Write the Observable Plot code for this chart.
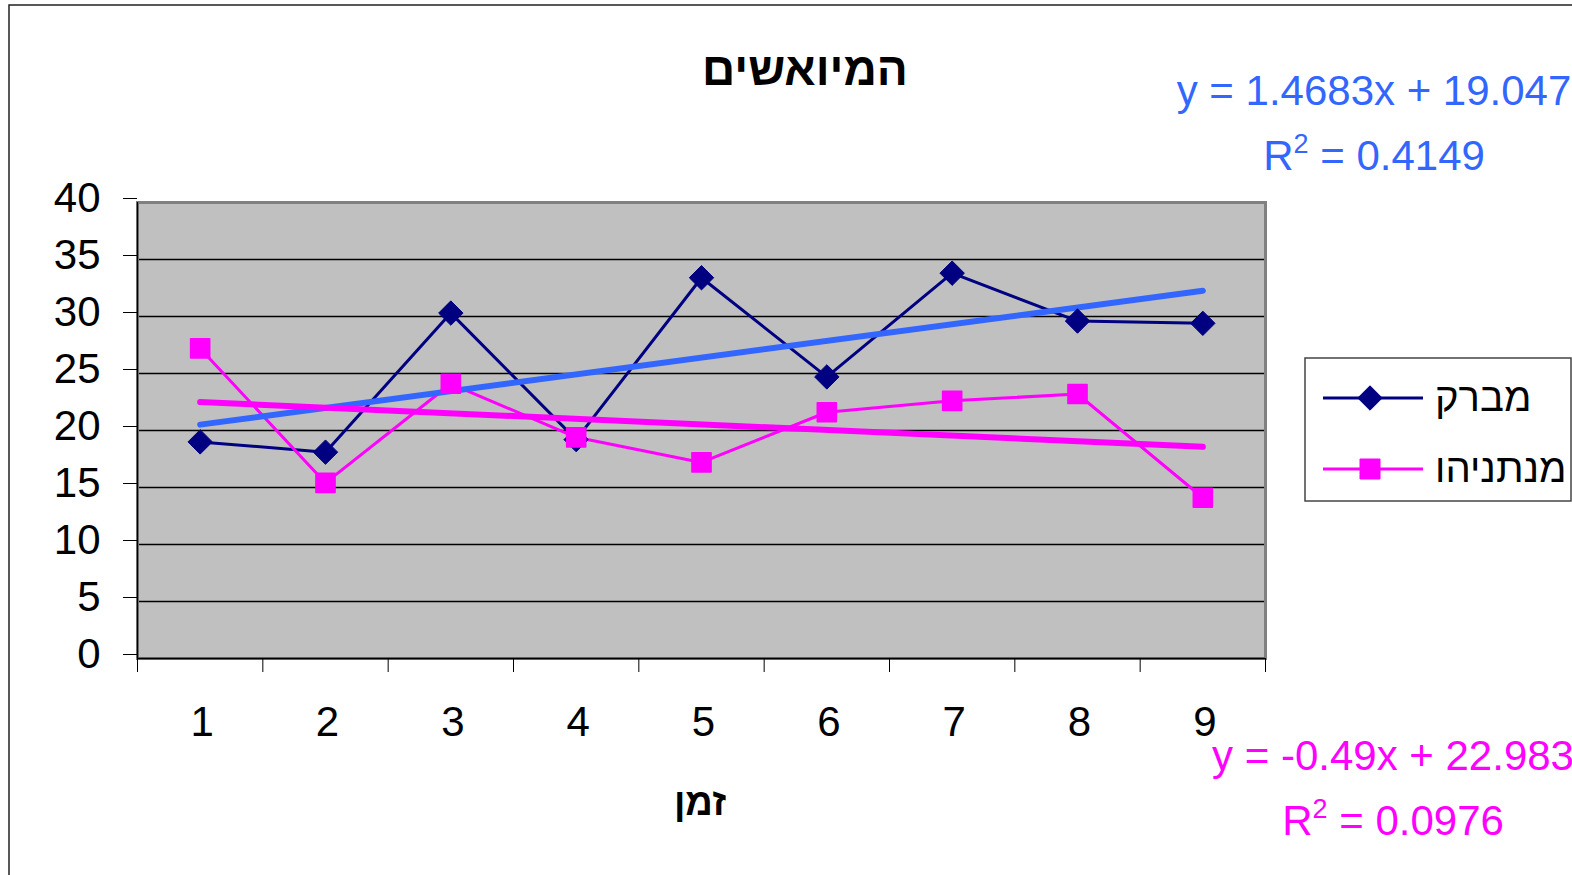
<!DOCTYPE html>
<html>
<head>
<meta charset="utf-8">
<script src="https://cdn.jsdelivr.net/npm/d3@7"></script>
<script src="https://cdn.jsdelivr.net/npm/@observablehq/plot@0.6"></script>
<style>
  html, body { margin: 0; padding: 0; background: #fff; overflow: hidden; }
  #chart { position: relative; width: 1572px; height: 875px; }
</style>
</head>
<body>
<div id="chart"></div>
<script>
// ---- data ----
const categories = [1, 2, 3, 4, 5, 6, 7, 8, 9];
const mubarak = [19.0, 18.1, 30.3, 19.2, 33.4, 24.7, 33.8, 29.6, 29.4];
const netanyahu = [27.2, 15.4, 24.1, 19.4, 17.2, 21.6, 22.6, 23.2, 14.1];
const seriesNames = ["מברק", "מנתניהו"];
const trendSlopes = [1.4683, -0.49];
const trendIntercepts = [19.047, 22.983];
const trendR2 = ["0.4149", "0.0976"];
const trendSlopeText = ["1.4683", "-0.49"];
const trendInterceptText = ["19.047", "22.983"];
const yTicks = [0, 5, 10, 15, 20, 25, 30, 35, 40];
const chartTitle = "המיואשים";
const xTitle = "זמן";

// ---- derived tables ----
const colors = ["#000080", "#ff00ff"];
const trendColors = ["#3366ff", "#ff00ff"];
const table = [];
[mubarak, netanyahu].forEach((vals, s) =>
  vals.forEach((v, i) => table.push({series: seriesNames[s], x: categories[i], y: v})));
const trendTable = [];
trendSlopes.forEach((m, s) => {
  const xs = [categories[0], categories[categories.length - 1]];
  xs.forEach(x => trendTable.push({series: seriesNames[s], x, y: m * x + trendIntercepts[s]}));
});
const boundaries = categories.map(c => c - 0.5).concat([categories[categories.length - 1] + 0.5]);
const gridVals = yTicks.filter(d => d > yTicks[0] && d < yTicks[yTicks.length - 1]);

const font = "'Liberation Sans', Arial, sans-serif";

const plot = Plot.plot({
  width: 1572,
  height: 875,
  marginLeft: 137,
  marginRight: 307,
  marginTop: 202,
  marginBottom: 217,
  x: {type: "linear", domain: [boundaries[0], boundaries[boundaries.length - 1]]},
  y: {domain: [yTicks[0], yTicks[yTicks.length - 1]]},
  style: {fontFamily: font, fontSize: "42px", color: "#000", background: "transparent", overflow: "visible"},
  marks: [
    Plot.frame({fill: "#c0c0c0"}),
    Plot.ruleY(gridVals, {stroke: "#000", strokeWidth: 1.3}),
    Plot.frame({stroke: "#808080", strokeWidth: 3}),
    Plot.ruleX([boundaries[0]], {stroke: "#000", strokeWidth: 1.3}),
    Plot.ruleY([yTicks[0]], {stroke: "#000", strokeWidth: 1.5}),
    Plot.axisY({ticks: yTicks, tickSize: 14, tickPadding: 23, label: null, dy: -4, stroke: "#000"}),
    Plot.axisX({ticks: categories, tickSize: 0, tickPadding: 48, label: null, dx: 2, tickFormat: d => String(d)}),
    Plot.axisX({ticks: boundaries, tickSize: 14, tickFormat: () => "", label: null, stroke: "#000"}),
    Plot.line(table, {x: "x", y: "y", z: "series", stroke: d => d.series === seriesNames[0] ? colors[0] : colors[1], strokeWidth: 3}),
    Plot.line(trendTable, {x: "x", y: "y", z: "series", stroke: d => d.series === seriesNames[0] ? trendColors[0] : trendColors[1], strokeWidth: 6, strokeLinecap: "round"}),
    Plot.dot(table.filter(d => d.series === seriesNames[0]), {x: "x", y: "y", symbol: "diamond2", r: 11, fill: colors[0], stroke: colors[0], strokeWidth: 1, strokeLinejoin: "round"}),
    Plot.dot(table.filter(d => d.series === seriesNames[1]), {x: "x", y: "y", symbol: "square", r: 10.8, fill: colors[1], stroke: colors[1], strokeWidth: 1.5, strokeLinejoin: "round"})
  ]
});
plot.setAttribute("color", "#000");
document.getElementById("chart").appendChild(plot);

// ---- annotations (outer frame, titles, legend, equations) ----
const svg = d3.select(plot);
const g = svg.append("g").attr("font-family", font).attr("text-anchor", "middle");

g.append("rect").attr("x", 9).attr("y", 5).attr("width", 1600).attr("height", 900)
  .attr("fill", "none").attr("stroke", "#222").attr("stroke-width", 1.5);

g.append("text").attr("x", 805).attr("y", 85).attr("text-anchor", "middle")
  .attr("font-weight", "bold").attr("font-size", 46).attr("fill", "#000").text(chartTitle);
g.append("text").attr("x", 700).attr("y", 815).attr("text-anchor", "middle")
  .attr("font-weight", "bold").attr("font-size", 38).attr("fill", "#000").text(xTitle);

// legend
const lg = g.append("g");
lg.append("rect").attr("x", 1305).attr("y", 358).attr("width", 266).attr("height", 143)
  .attr("fill", "#fff").attr("stroke", "#444").attr("stroke-width", 1.5);
const legendY = [398, 469];
const legendSyms = [d3.symbol(d3.symbolDiamond2, Math.PI * 11 * 11)(), d3.symbol(d3.symbolSquare, 400)()];
seriesNames.forEach((name, i) => {
  lg.append("line").attr("x1", 1323).attr("x2", 1423).attr("y1", legendY[i]).attr("y2", legendY[i])
    .attr("stroke", colors[i]).attr("stroke-width", 3);
  lg.append("path").attr("d", legendSyms[i]).attr("transform", `translate(1370,${legendY[i]})`)
    .attr("fill", colors[i]).attr("stroke", colors[i]).attr("stroke-linejoin", "round");
  lg.append("text").attr("x", 1435).attr("y", legendY[i] + 13).attr("font-size", 40)
    .attr("text-anchor", "start").attr("fill", "#000").text(name);
});

// trend equations
const eqPos = [{x: 1374, y1: 105, y2: 170}, {x: 1393, y1: 770, y2: 835}];
trendSlopes.forEach((m, i) => {
  g.append("text").attr("x", eqPos[i].x).attr("y", eqPos[i].y1).attr("text-anchor", "middle")
    .attr("font-size", 42).attr("fill", trendColors[i])
    .text(`y = ${trendSlopeText[i]}x + ${trendInterceptText[i]}`);
  const t = g.append("text").attr("x", eqPos[i].x).attr("y", eqPos[i].y2).attr("text-anchor", "middle")
    .attr("font-size", 42).attr("fill", trendColors[i]);
  t.append("tspan").text("R");
  t.append("tspan").attr("dy", -17).attr("font-size", 27).text("2");
  t.append("tspan").attr("dy", 17).text(` = ${trendR2[i]}`);
});
</script>
</body>
</html>
